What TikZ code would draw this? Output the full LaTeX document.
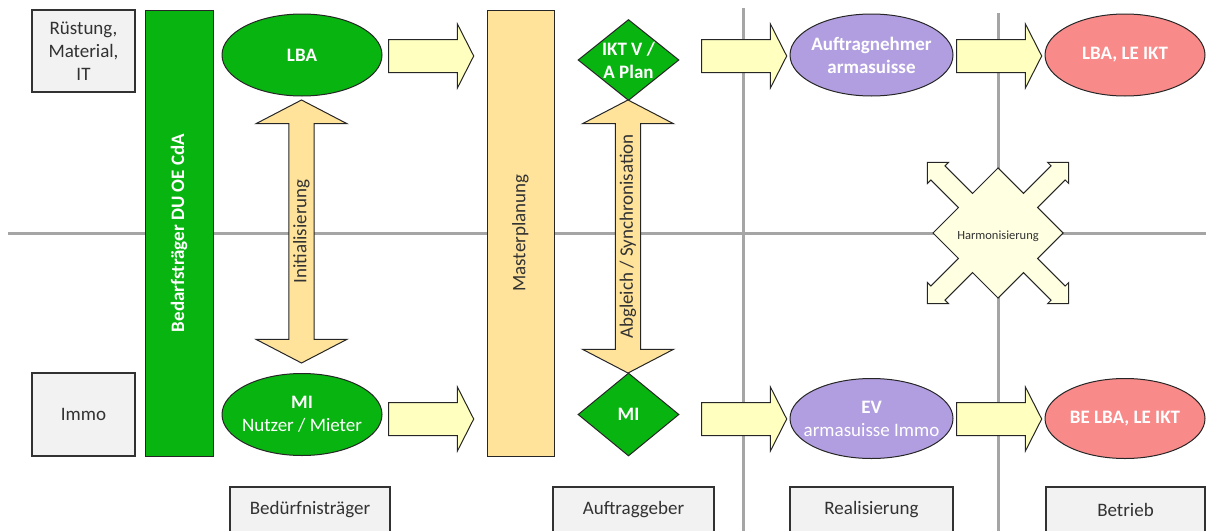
\documentclass[tikz,border=0pt]{standalone}
\usepackage{fontspec}
\setmainfont{Carlito}
\usepackage{tikz}
\usetikzlibrary{positioning,shapes.geometric,shapes.arrows}
\definecolor{boxgray}{RGB}{242,242,242}
\definecolor{linegray}{RGB}{165,165,165}
\definecolor{darktxt}{RGB}{50,50,50}
\definecolor{Green}{RGB}{8,180,16}
\definecolor{sand}{RGB}{255,227,155}
\definecolor{paleyellow}{RGB}{255,255,192}
\definecolor{cream}{RGB}{255,255,226}
\definecolor{lilac}{RGB}{177,158,224}
\definecolor{salmon}{RGB}{248,138,138}
\AtBeginDocument{\fontsize{19}{23}\selectfont}
\tikzstyle{graybox}=[%
      rectangle, draw=darktxt, line width=1.2pt, fill=boxgray, text=darktxt,
      align=center, inner sep=0pt
]
\tikzstyle{oval}=[%
      ellipse, draw=black!85, line width=1pt, minimum width=160pt, minimum height=82pt, inner sep=0pt
]
\tikzstyle{dia}=[%
      diamond, draw=black!85, line width=1pt, fill=Green, minimum width=101pt, minimum height=81pt, inner sep=0pt
]
\tikzstyle{wt}=[text=white, font=\bfseries, align=center]
\tikzstyle{pushar}=[%
      single arrow, draw=black!85, line width=1pt, fill=paleyellow, minimum height=85pt, minimum width=63pt,
      single arrow head extend=15.5pt, single arrow tip angle=126, inner xsep=0pt, inner ysep=16pt
]
\tikzstyle{syncar}=[%
      double arrow, draw=black!85, line width=1pt, fill=sand, text=darktxt, rotate=90, minimum width=91pt,
      double arrow head extend=22.5pt, double arrow tip angle=125, inner sep=0pt
]
\tikzstyle{bar}=[%
      rectangle, draw=black!85, line width=1pt, rotate=90, minimum width=446pt, minimum height=68pt, inner sep=0pt
]
\tikzstyle{gridline}=[linegray, line width=3pt]

\begin{document}
\begin{tikzpicture}[x=1pt, y=-1pt]
    \useasboundingbox (0,0) rectangle (1206,530);
    \clip (0,0) rectangle (1206,530);

    % raster
    \draw[gridline] (8,233) -- (1206,233);
    \draw[gridline] (743,8) -- (743,540);
    \draw[gridline] (998,13) -- (998,540);

    % links
    \node[graybox, minimum width=103pt, minimum height=82pt] (ruest) at (83.5,51) {Rüstung,\\Material,\\IT};
    \node[graybox, minimum width=103pt, minimum height=83pt] (immo) at (83.5,414.5) {Immo};
    \node[bar, fill=Green, text=white, font=\bfseries] (bdu) at (179,233) {Bedarfsträger DU OE CdA};

    \node[oval, fill=Green, label={[wt]center:LBA}] (lba) at (302,55) {};
    \node[oval, fill=Green, label={[wt]center:MI\\{\mdseries Nutzer / Mieter}}] (mi) at (302,414.5) {};
    \node[syncar, minimum height=263pt] (init) at (301.5,231.5) {Initialisierung};

    \node[pushar] (p1) at (427,56) {};
    \node[pushar] (p2) at (427,419) {};

    \node[bar, fill=sand, text=darktxt, minimum height=67pt] (master) at (520.5,233) {Masterplanung};

    \node[dia, label={[wt]center:IKT V /\\A Plan}] (ikt) at (628.5,60) {};
    \node[dia, minimum height=83pt, label={[wt]center:MI}] (midia) at (628.5,414.5) {};
    \node[syncar, minimum height=273pt] (sync) at (628,236.5) {Abgleich / Synchronisation};

    \node[pushar] (p3) at (740,56) {};
    \node[pushar] (p4) at (740,419) {};

    \node[oval, fill=lilac, minimum width=163pt, label={[wt]center:Auftragnehmer\\armasuisse}] (an) at (871.5,55) {};
    \node[oval, fill=lilac, minimum width=163pt, minimum height=80pt,
          label={[wt]center:EV\\{\mdseries armasuisse Immo}}] (ev) at (871.5,418.5) {};

    \node[pushar] (p5) at (995,56) {};
    \node[pushar] (p6) at (995,419) {};

    \node[oval, fill=salmon, label={[wt]center:LBA, LE IKT}] (lbale) at (1125,55) {};
    \node[oval, fill=salmon, minimum height=80pt, label={[wt]center:BE LBA, LE IKT}] (belba) at (1125,418.5) {};

    % harmonisierung
    \begin{scope}[shift={(998,233)}, rotate=45]
      \draw[black!85, line width=1pt, fill=cream, line join=miter]
        (46,-46) -- (46,-10) -- (85,-10) -- (85,-15) -- (100,0) -- (85,15) -- (85,10) -- (46,10)
        -- (46,46) -- (10,46) -- (10,85) -- (15,85) -- (0,100) -- (-15,85) -- (-10,85) -- (-10,46)
        -- (-46,46) -- (-46,10) -- (-85,10) -- (-85,15) -- (-100,0) -- (-85,-15) -- (-85,-10) -- (-46,-10)
        -- (-46,-46) -- (-10,-46) -- (-10,-85) -- (-15,-85) -- (0,-100) -- (15,-85) -- (10,-85) -- (10,-46)
        -- cycle;
    \end{scope}
    \node[text=darktxt, font=\fontsize{12.5}{15}\selectfont] (harm) at (998,236) {Harmonisierung};

    % unten
    \node[graybox, minimum width=160pt, minimum height=46pt] (bt) at (310,510) {Bedürfnisträger};
    \node[graybox, minimum width=161pt, minimum height=46pt] (ag) at (633.5,510) {Auftraggeber};
    \node[graybox, minimum width=163pt, minimum height=46pt] (real) at (871.5,510) {Realisierung};
    \node[graybox, minimum width=159pt, minimum height=46pt] (betr) at (1125.5,510) {Betrieb};

  \end{tikzpicture}
\end{document}
